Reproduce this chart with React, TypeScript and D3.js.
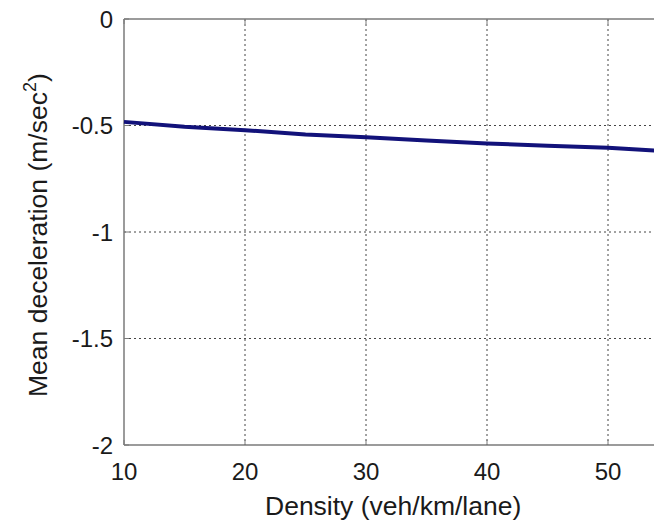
import React, { useEffect, useRef } from "react";
import * as d3 from "d3";

const density = [10, 15, 20, 25, 30, 35, 40, 45, 50, 55];
const deceleration = [-0.483, -0.506, -0.522, -0.542, -0.555, -0.57, -0.584, -0.595, -0.605, -0.622];
const xTicks = [10, 20, 30, 40, 50];
const yTicks = [0, -0.5, -1, -1.5, -2];

const W = 654;
const H = 522;
const left = 124;
const top = 19;
const bottom = 445;

export default function App() {
  const ref = useRef<SVGSVGElement>(null);

  useEffect(() => {
    const svg = d3.select(ref.current);
    svg.selectAll("*").remove();

    // the plot runs on past the right edge of the picture
    const x = d3.scaleLinear().domain([10, 60]).range([left, left + 121 * 5]);
    const y = d3.scaleLinear().domain([-2, 0]).range([bottom, top]);
    const font = "Arial, 'Liberation Sans', sans-serif";

    svg.append("rect").attr("width", W).attr("height", H).attr("fill", "#fff");

    // grid
    const grid = svg.append("g").attr("stroke", "#444").attr("stroke-width", 1).attr("stroke-dasharray", "2,3");
    grid.selectAll(".gx")
      .data(xTicks.slice(1))
      .enter().append("line")
      .attr("x1", (d) => x(d)).attr("x2", (d) => x(d))
      .attr("y1", top).attr("y2", bottom);
    grid.selectAll(".gy")
      .data(yTicks.slice(1, -1))
      .enter().append("line")
      .attr("x1", left).attr("x2", W)
      .attr("y1", (d) => y(d)).attr("y2", (d) => y(d));

    // box
    const axisColor = "#7a7a7a";
    svg.append("line").attr("x1", left).attr("x2", left).attr("y1", top).attr("y2", bottom)
      .attr("stroke", axisColor).attr("stroke-width", 1.5);
    svg.append("line").attr("x1", left).attr("x2", W).attr("y1", bottom).attr("y2", bottom)
      .attr("stroke", axisColor).attr("stroke-width", 1.5);
    svg.append("line").attr("x1", left).attr("x2", W).attr("y1", top).attr("y2", top)
      .attr("stroke", axisColor).attr("stroke-width", 1.5);

    // ticks (inside)
    svg.selectAll(".tx")
      .data(xTicks)
      .enter().append("line")
      .attr("x1", (d) => x(d)).attr("x2", (d) => x(d))
      .attr("y1", bottom).attr("y2", bottom - 5)
      .attr("stroke", axisColor);
    svg.selectAll(".tx2")
      .data(xTicks)
      .enter().append("line")
      .attr("x1", (d) => x(d)).attr("x2", (d) => x(d))
      .attr("y1", top).attr("y2", top + 5)
      .attr("stroke", axisColor);
    svg.selectAll(".ty")
      .data(yTicks)
      .enter().append("line")
      .attr("x1", left).attr("x2", left + 5)
      .attr("y1", (d) => y(d)).attr("y2", (d) => y(d))
      .attr("stroke", axisColor);

    // tick labels
    svg.selectAll(".lx")
      .data(xTicks)
      .enter().append("text")
      .attr("x", (d) => x(d))
      .attr("y", 480)
      .attr("text-anchor", "middle")
      .attr("font-family", font)
      .attr("font-size", 24)
      .attr("fill", "#1a1a1a")
      .text((d) => d);
    svg.selectAll(".ly")
      .data(yTicks)
      .enter().append("text")
      .attr("x", 113)
      .attr("y", (d) => y(d))
      .attr("dy", "0.36em")
      .attr("text-anchor", "end")
      .attr("font-family", font)
      .attr("font-size", 24)
      .attr("fill", "#1a1a1a")
      .text((d) => d3.format("")(d).replace("−", "-"));

    // axis labels
    svg.append("text")
      .attr("x", 265)
      .attr("y", 515)
      .attr("font-family", font)
      .attr("font-size", 26.5)
      .attr("fill", "#1a1a1a")
      .text("Density (veh/km/lane)");

    const yl = svg.append("text")
      .attr("transform", "translate(47,397) rotate(-90)")
      .attr("font-family", font)
      .attr("font-size", 26.5)
      .attr("fill", "#1a1a1a");
    yl.append("tspan").text("Mean deceleration (m/sec");
    yl.append("tspan").attr("font-size", 18).attr("dy", -11).text("2");
    yl.append("tspan").attr("dy", 11).text(")");

    // data line
    const line = d3.line<number>()
      .x((d, i) => x(density[i]))
      .y((d) => y(d));
    svg.append("path")
      .datum(deceleration)
      .attr("d", line)
      .attr("fill", "none")
      .attr("stroke", "#12127a")
      .attr("stroke-width", 4);
  }, []);

  return (
    <>
      <style>{`body{margin:0}`}</style>
      <svg ref={ref} width={W} height={H} style={{ display: "block" }}></svg>
    </>
  );
}
